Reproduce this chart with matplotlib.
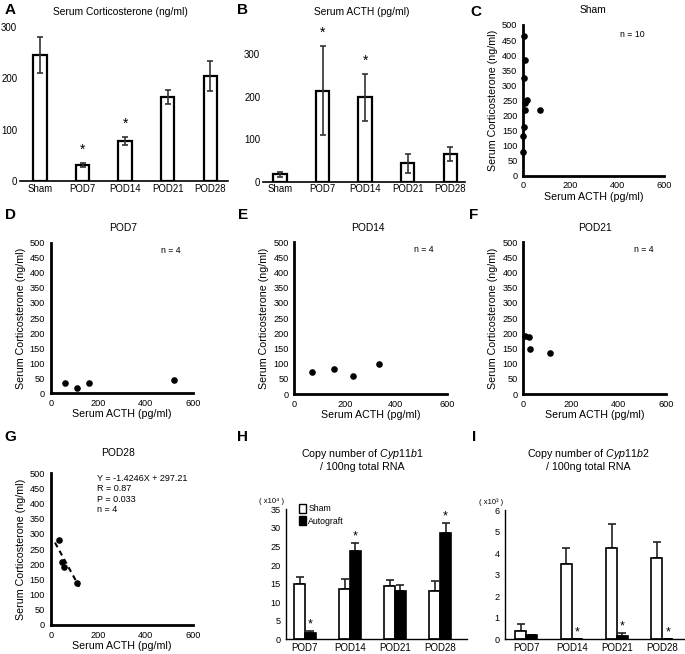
import numpy as np
import matplotlib.pyplot as plt
from matplotlib.patches import Patch

plt.rcParams['font.family'] = ['Liberation Sans', 'DejaVu Sans']
plt.rcParams['mathtext.fontset'] = 'custom'
plt.rcParams['mathtext.rm'] = 'Liberation Sans'
plt.rcParams['mathtext.it'] = 'Liberation Sans:italic'

W, H = 685, 654

# --- data ---
groups = ['Sham', 'POD7', 'POD14', 'POD21', 'POD28']
cort_mean = [245, 32, 78, 164, 205]
cort_err = [35, 4, 7, 14, 29]
cort_star = [False, True, True, False, False]

acth_mean = [17, 215, 199, 43, 65]
acth_err = [6, 105, 56, 23, 17]
acth_star = [False, True, True, False, False]

sham_acth = [3, 10, 5, 15, 8, 8, 72, 3, 0, 2]
sham_cort = [463, 383, 325, 252, 240, 218, 218, 162, 131, 80]
pod7_acth = [62, 112, 163, 521]
pod7_cort = [33, 17, 33, 44]
pod14_acth = [71, 158, 232, 332]
pod14_cort = [71, 81, 59, 98]
pod21_acth = [7, 23, 28, 112]
pod21_cort = [192, 186, 147, 136]
pod28_acth = [36, 46, 57, 112]
pod28_cort = [280, 208, 190, 140]
fit_slope, fit_icpt = -1.4246, 297.21
fit_x = [18, 120]

pods = ['POD7', 'POD14', 'POD21', 'POD28']
b1_sham = [14.8, 13.5, 14.4, 13.1]
b1_sham_err = [2.1, 2.7, 1.6, 2.7]
b1_auto = [1.6, 23.8, 13.0, 28.5]
b1_auto_err = [0.7, 2.2, 1.5, 2.9]
b1_star = [True, True, False, True]

b2_sham = [0.39, 3.48, 4.25, 3.76]
b2_sham_err = [0.31, 0.74, 1.1, 0.74]
b2_auto = [0.18, 0.02, 0.15, 0.02]
b2_auto_err = [0.03, 0.0, 0.16, 0.0]
b2_star = [False, True, True, True]

TFS = 7.4   # titles / axis labels
KFS = 6.6   # tick labels

fig = plt.figure(figsize=(W / 100, H / 100), dpi=100)


def ax_px(l, t, r, b):
    return fig.add_axes([l / W, 1 - b / H, (r - l) / W, (b - t) / H])


def ftext(x, y, s, **kw):
    fig.text(x / W, 1 - y / H, s, ha='center', va='center', **kw)


def bar_panel(ax, mean, err, star, ylim, yticks, xlim):
    x = np.arange(len(groups))
    ax.bar(x, mean, width=0.31, color='white', edgecolor='black', linewidth=1.6, zorder=2)
    ax.errorbar(x, mean, yerr=err, fmt='none', ecolor='#333333', elinewidth=1.2,
                capsize=2.5, capthick=1.2, zorder=3)
    for xi, m, e, s in zip(x, mean, err, star):
        if s:
            ax.text(xi, m + e + ylim[1] * 0.04, '*', ha='center', va='bottom', fontsize=10)
    ax.set_xlim(*xlim)
    ax.set_ylim(*ylim)
    ax.set_yticks(yticks)
    ax.set_xticks(x)
    ax.set_xticklabels(groups)
    for sp in ['top', 'right', 'left']:
        ax.spines[sp].set_visible(False)
    ax.spines['bottom'].set_linewidth(1.2)
    ax.tick_params(length=0, labelsize=KFS + 0.3, pad=2)


# A
axA = ax_px(20, 27, 228, 181)
bar_panel(axA, cort_mean, cort_err, cort_star, (0, 300), [0, 100, 200, 300], (-0.47, 4.42))
ftext(120, 12, 'Serum Corticosterone (ng/ml)', fontsize=TFS)

# B
axB = ax_px(263, 29, 465, 181.7)
bar_panel(axB, acth_mean, acth_err, acth_star, (0, 360), [0, 100, 200, 300], (-0.4, 4.35))
ftext(362, 12, 'Serum ACTH (pg/ml)', fontsize=TFS)


def scatter_panel(ax, xs, ys):
    ax.scatter(xs, ys, s=14, color='black', zorder=3, clip_on=False)
    ax.set_xlim(0, 600)
    ax.set_ylim(0, 500)
    ax.set_xticks([0, 200, 400, 600])
    ax.set_yticks(np.arange(0, 501, 50))
    for sp in ['top', 'right']:
        ax.spines[sp].set_visible(False)
    for sp in ['left', 'bottom']:
        ax.spines[sp].set_linewidth(2)
    ax.tick_params(length=0, labelsize=KFS, pad=4)
    ax.set_xlabel('Serum ACTH (pg/ml)', fontsize=TFS + 0.3, labelpad=1)
    ax.set_ylabel('Serum Corticosterone (ng/ml)', fontsize=TFS + 0.3, labelpad=3)


axC = ax_px(523, 25, 664, 175.7)
scatter_panel(axC, sham_acth, sham_cort)
axC.text(465, 470, 'n = 10', fontsize=6.3, ha='center', va='center')
ftext(593, 10, 'Sham', fontsize=TFS)

axD = ax_px(50.7, 242.7, 192.7, 393.3)
scatter_panel(axD, pod7_acth, pod7_cort)
axD.text(508, 475, 'n = 4', fontsize=6.3, ha='center', va='center')
ftext(123, 228, 'POD7', fontsize=TFS)

axE = ax_px(294.3, 242, 446.7, 394)
scatter_panel(axE, pod14_acth, pod14_cort)
axE.text(508, 475, 'n = 4', fontsize=6.3, ha='center', va='center')
ftext(368, 228, 'POD14', fontsize=TFS)

axF = ax_px(523.3, 242, 665.7, 394)
scatter_panel(axF, pod21_acth, pod21_cort)
axF.text(508, 475, 'n = 4', fontsize=6.3, ha='center', va='center')
ftext(595, 228, 'POD21', fontsize=TFS)

axG = ax_px(50.7, 473.3, 193.3, 625)
scatter_panel(axG, pod28_acth, pod28_cort)
fx = np.array(fit_x)
axG.plot(fx, fit_slope * fx + fit_icpt, 'k--', lw=1.5, dashes=(2.5, 2))
axG.text(195, 498, 'Y = -1.4246X + 297.21\nR = 0.87\nP = 0.033\nn = 4', fontsize=6.5,
         ha='left', va='top', linespacing=1.2)
ftext(118, 453, 'POD28', fontsize=TFS)


def copy_panel(ax, sham, sham_err, auto, auto_err, star, ymax, yticks, xlim, mult):
    x = np.arange(len(pods))
    w = 0.24
    ax.bar(x - w / 2, sham, width=w, color='white', edgecolor='black', linewidth=1.2, zorder=2)
    ax.bar(x + w / 2, auto, width=w, color='black', edgecolor='black', linewidth=1.2, zorder=2)
    ax.errorbar(x - w / 2, sham, yerr=[np.zeros(4), sham_err], fmt='none', ecolor='#222222',
                elinewidth=1.2, capsize=3, capthick=1.2, zorder=1)
    ax.errorbar(x + w / 2, auto, yerr=[np.zeros(4), auto_err], fmt='none', ecolor='#222222',
                elinewidth=1.2, capsize=3, capthick=1.2, zorder=1)
    for xi, m, e, s in zip(x, auto, auto_err, star):
        if s:
            ax.text(xi + w / 2, m + e + ymax * 0.005, '*', ha='center', va='bottom', fontsize=9)
    ax.set_xlim(*xlim)
    ax.set_ylim(0, ymax)
    ax.set_yticks(yticks)
    ax.set_xticks(x)
    ax.set_xticklabels(pods)
    for sp in ['top', 'right']:
        ax.spines[sp].set_visible(False)
    for sp in ['left', 'bottom']:
        ax.spines[sp].set_linewidth(1)
    ax.tick_params(length=0, labelsize=KFS, pad=4)
    ax.tick_params(axis='x', labelsize=KFS + 0.4, pad=3)
    ax.text(-0.08, 1.06, '( x10' + mult + ' )', transform=ax.transAxes, fontsize=5.5,
            ha='center', va='center')


axH = ax_px(286, 509.3, 466.7, 639.3)
copy_panel(axH, b1_sham, b1_sham_err, b1_auto, b1_auto_err, b1_star, 35,
           np.arange(0, 36, 5), (-0.42, 3.59), '\u2074')
axH.legend(handles=[Patch(facecolor='white', edgecolor='black', label='Sham'),
                    Patch(facecolor='black', edgecolor='black', label='Autograft')],
           loc='upper left', bbox_to_anchor=(0.05, 1.07), frameon=False, fontsize=6.3,
           handlelength=0.9, handleheight=1.2, handletextpad=0.2, labelspacing=0.35,
           borderaxespad=0)
ftext(362, 454, 'Copy number of $\\mathit{Cyp11b1}$', fontsize=TFS + 0.3)
ftext(362, 467, '/ 100ng total RNA', fontsize=TFS + 0.3)

axI = ax_px(505, 510, 685, 639.3)
copy_panel(axI, b2_sham, b2_sham_err, b2_auto, b2_auto_err, b2_star, 6,
           np.arange(0, 7, 1), (-0.47, 3.5), '\u00b3')
ftext(588, 454, 'Copy number of $\\mathit{Cyp11b2}$', fontsize=TFS + 0.3)
ftext(588, 467, '/ 100ng total RNA', fontsize=TFS + 0.3)

for x, y, s in [(10, 10, 'A'), (243, 10, 'B'), (476, 12, 'C'),
                (10, 215, 'D'), (243, 215, 'E'), (474, 215, 'F'),
                (10, 437, 'G'), (243, 437, 'H'), (474, 437, 'I')]:
    ftext(x, y, s, fontsize=11, fontweight='bold')

fig.savefig('out.png', dpi=100)
